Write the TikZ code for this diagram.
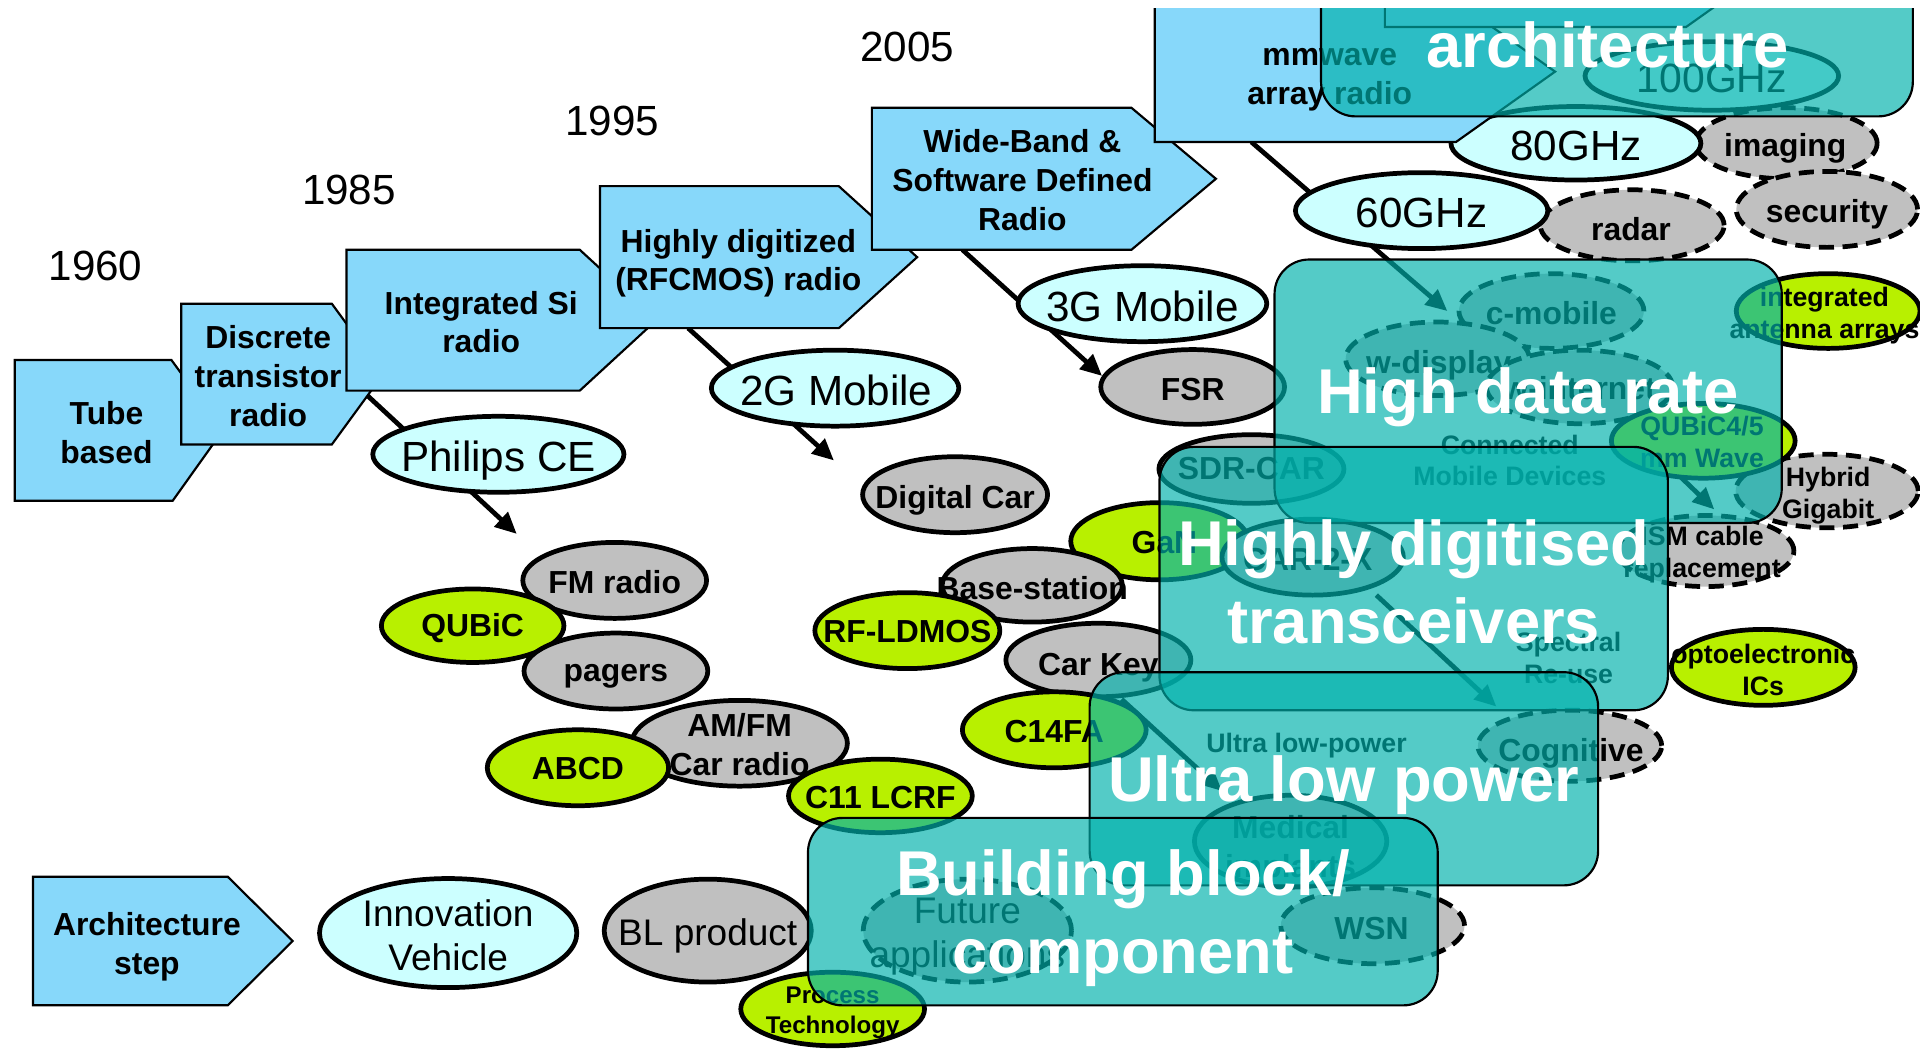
\documentclass[tikz,border=0pt]{standalone}
\usepackage{fontspec}
\setmainfont{Liberation Sans}
\usetikzlibrary{shapes.geometric,arrows.meta}
\definecolor{lblue}{RGB}{135,216,250}
\definecolor{lcyan}{RGB}{204,255,255}
\definecolor{lgrey}{RGB}{192,192,192}
\definecolor{llime}{RGB}{184,240,0}
\definecolor{ovc}{RGB}{0,177,172}
\tikzset{
  stepbox/.style={draw=black,line width=0.5pt,fill=lblue,line join=miter},
  elb/.style={ellipse,draw=black,line width=1.1pt,inner sep=0pt,outer sep=0pt},
  ecy/.style={elb,fill=lcyan},
  egr/.style={elb,fill=lgrey},
  egd/.style={elb,fill=lgrey,dash pattern=on 3.5pt off 2pt},
  elm/.style={elb,fill=llime},
  tb/.style={font=\fontsize{7.4}{9}\selectfont\bfseries,align=center,inner sep=0pt,yshift=-0.1mm},
  ts/.style={font=\fontsize{6.2}{7.4}\selectfont\bfseries,align=center,inner sep=0pt},
  tp/.style={font=\fontsize{5.6}{6.8}\selectfont\bfseries,align=center,inner sep=0pt},
  tr/.style={font=\fontsize{9.8}{11.5}\selectfont,align=center,inner sep=0pt,yshift=-0.1mm},
  tm/.style={font=\fontsize{8.6}{10.2}\selectfont,align=center,inner sep=0pt},
  dn/.style={yshift=-0.3mm},
  ovl/.style={rectangle,draw=black,line width=0.5pt,fill=ovc,fill opacity=0.67,text opacity=1,rounded corners=8pt,inner sep=0pt},
  ovt/.style={text=white,font=\fontsize{14.7}{18.1}\selectfont\bfseries,align=center,inner sep=0pt},
  conn/.style={draw=black,line width=1.1pt,-{Triangle[length=5pt,width=4.5pt]}},
}
\begin{document}
\begin{tikzpicture}[x=0.01cm,y=-0.01cm]
\useasboundingbox (0,0) rectangle (1568,857);
\begin{scope}
\clip (0,7) rectangle (1568,857);

% years
\node[tr] (y1960) at (78,216) {1960};
\node[tr] (y1985) at (285,154) {1985};
\node[tr] (y1995) at (500,98) {1995};
\node[tr] (y2005) at (741,37) {2005};

% connectors (behind shapes)
\coordinate (c1s) at (300,323); \coordinate (c1e) at (422,436);
\coordinate (c2s) at (562,268); \coordinate (c2e) at (681,376);
\coordinate (c3s) at (786,204); \coordinate (c3e) at (900,307);
\coordinate (c4s) at (1022,116); \coordinate (c4e) at (1182,254);
\coordinate (c5s) at (1373,390); \coordinate (c5e) at (1400,416);
\coordinate (c6s) at (1124,486); \coordinate (c6e) at (1222,577);
\coordinate (c7s) at (916,571); \coordinate (c7e) at (998,646);
\draw[conn] (c1s) -- (c1e);
\draw[conn] (c2s) -- (c2e);
\draw[conn] (c3s) -- (c3e);
\draw[conn] (c4s) -- (c4e);
\draw[conn] (c5s) -- (c5e);
\draw[conn] (c6s) -- (c6e);
\draw[conn] (c7s) -- (c7e);

% ellipses under the mmwave step
\node[ecy,minimum width=2.07cm,minimum height=0.56cm] (g100) at (1398,62) {};
\node[tr,font=\fontsize{9.5}{11}\selectfont] (g100T) at (1398,63) {100GHz};
\node[egd,minimum width=1.48cm,minimum height=0.58cm] (imaging) at (1459,117) {};
\node[tb,dn] (imagingT) at (1458,117) {imaging};
\node[egd,minimum width=1.48cm,minimum height=0.62cm] (security) at (1492,171) {};
\node[tb,dn] (securityT) at (1492,171) {security};
\node[ecy,minimum width=2.04cm,minimum height=0.60cm] (g80) at (1287,117) {};
\node[tr] (g80T) at (1287,118) {80GHz};

% architecture steps
\draw[stepbox] (12,294) -- (140,294) -- (182,351.5) -- (141,409) -- (12,409) -- cycle;
\node[tb] (tube) at (87,352) {Tube\\based};
\draw[stepbox] (148,248) -- (271,248) -- (313,305.5) -- (271,363) -- (148,363) -- cycle;
\node[tb] (disc) at (219,306) {Discrete\\transistor\\radio};
\draw[stepbox] (283,204) -- (473.5,204) -- (536,261.5) -- (473.5,319) -- (283,319) -- cycle;
\node[tb] (integ) at (393,262) {Integrated Si\\radio};
\draw[stepbox] (490,152) -- (685,152) -- (749,210) -- (685,268) -- (490,268) -- cycle;
\node[tb,dn] (highly) at (603,211) {Highly digitized\\(RFCMOS) radio};
\draw[stepbox] (712,88) -- (924,88) -- (993,146) -- (924,204) -- (712,204) -- cycle;
\node[tb] (wide) at (835,146) {Wide-Band \&\\Software Defined\\Radio};
\draw[stepbox] (943,1) -- (1189,1) -- (1270,58.5) -- (1189,116) -- (943,116) -- cycle;
\node[tb] (mmw) at (1086,64) {mmwave\\array radio};
\draw[stepbox] (1131,-93) -- (1377,-93) -- (1458,-35.5) -- (1377,22) -- (1131,22) -- cycle;
\draw[stepbox] (27,716) -- (186,716) -- (239,768.5) -- (186,821) -- (27,821) -- cycle;
\node[tb,dn] (archstep) at (120,769) {Architecture\\step};

% cyan ellipses
\node[ecy,minimum width=2.05cm,minimum height=0.62cm] (philips) at (407,371) {};
\node[tr,dn] (philipsT) at (407,372) {Philips CE};
\node[ecy,minimum width=2.02cm,minimum height=0.62cm] (g2) at (682,317) {};
\node[tr] (g2T) at (683,318) {2G Mobile};
\node[ecy,minimum width=2.03cm,minimum height=0.62cm] (g3) at (933,248) {};
\node[tr] (g3T) at (933,249) {3G Mobile};
\node[egd,minimum width=1.50cm,minimum height=0.58cm] (radar) at (1333,184) {};
\node[tb] (radarT) at (1332,186) {radar};
\node[ecy,minimum width=2.06cm,minimum height=0.62cm] (g60) at (1161,172) {};
\node[tr] (g60T) at (1161,173) {60GHz};
\node[ecy,minimum width=2.10cm,minimum height=0.89cm] (innov) at (366,762) {};
\node[tm] (innovT) at (366,764) {Innovation\\Vehicle};

% left cluster
\node[egr,minimum width=1.50cm,minimum height=0.62cm] (fm) at (502,474) {};
\node[tb] (fmT) at (fm) {FM radio};
\node[elm,minimum width=1.49cm,minimum height=0.60cm] (qubic) at (386,511) {};
\node[tb] (qubicT) at (386,512) {QUBiC};
\node[egr,minimum width=1.50cm,minimum height=0.62cm] (pagers) at (503,548) {};
\node[tb,dn] (pagersT) at (pagers) {pagers};
\node[egr,minimum width=1.76cm,minimum height=0.70cm] (amfm) at (604,607) {};
\node[tb] (amfmT) at (amfm) {AM/FM\\Car radio};
\node[elm,minimum width=1.48cm,minimum height=0.62cm] (abcd) at (472,627) {};
\node[tb] (abcdT) at (abcd) {ABCD};
\node[elm,minimum width=1.50cm,minimum height=0.60cm] (c11) at (719,650) {};
\node[tb] (c11T) at (c11) {C11 LCRF};

% middle cluster
\node[egr,minimum width=1.51cm,minimum height=0.62cm] (dcar) at (780,404) {};
\node[tb,dn] (dcarT) at (780,405) {Digital Car};
\node[egr,minimum width=1.50cm,minimum height=0.61cm] (fsr) at (974,316) {};
\node[tb] (fsrT) at (974,317) {FSR};
\node[elm,minimum width=1.45cm,minimum height=0.63cm] (gan) at (947,442) {};
\node[tb] (ganT) at (951,442) {GaN};
\node[egr,minimum width=1.47cm,minimum height=0.60cm] (base) at (843,478) {};
\node[tb] (baseT) at (843,479) {Base-station};
\node[elm,minimum width=1.51cm,minimum height=0.62cm] (rfl) at (741,515) {};
\node[tb] (rflT) at (rfl) {RF-LDMOS};
\node[egr,minimum width=1.51cm,minimum height=0.60cm] (carkey) at (897,539) {};
\node[tb,dn] (carkeyT) at (897,541) {Car Key};
\node[elm,minimum width=1.50cm,minimum height=0.62cm] (c14) at (861,596) {};
\node[tb] (c14T) at (c14) {C14FA};
\node[egr,minimum width=1.51cm,minimum height=0.56cm] (sdr) at (1022,383) {};
\node[tb] (sdrT) at (1022,382) {SDR-CAR};
\node[egr,minimum width=1.48cm,minimum height=0.62cm] (car2x) at (1072,455) {};
\node[tb] (car2xT) at (1068,456) {CAR-2-X};
\node[egr,minimum width=1.57cm,minimum height=0.75cm] (medical) at (1054,687) {};
\node[tb,dn] (medicalT) at (1054,690) {Medical\\implants};
\node[egd,minimum width=1.50cm,minimum height=0.58cm] (cogn) at (1282,609) {};
\node[tb,dn] (cognT) at (1283,611) {Cognitive};
\node[egd,minimum width=1.50cm,minimum height=0.62cm] (wsn) at (1121,756) {};
\node[tb] (wsnT) at (1120,757) {WSN};
\node[egd,minimum width=1.70cm,minimum height=0.84cm] (future) at (790,760) {};
\node[tm,dn] (futureT) at (790,762) {Future\\applications};
\node[egr,minimum width=1.69cm,minimum height=0.84cm] (bl) at (578,760) {};
\node[tm,dn] (blT) at (578,761) {BL product};
\node[elm,minimum width=1.50cm,minimum height=0.60cm] (process) at (680,824) {};
\node[tp,dn] (processT) at (process) {Process\\Technology};

% right cluster
\node[egd,minimum width=1.51cm,minimum height=0.61cm] (cmob) at (1267,254) {};
\node[tb] (cmobT) at (1267,255) {c-mobile};
\node[egd,minimum width=1.50cm,minimum height=0.60cm] (wdisp) at (1174,293) {};
\node[tb,dn] (wdispT) at (1175,294) {w-display};
\node[egd,minimum width=1.52cm,minimum height=0.60cm] (wint) at (1290,316) {};
\node[tb] (wintT) at (wint) {w-internet};
\node[egd,minimum width=1.49cm,minimum height=0.60cm] (hybrid) at (1492,401) {};
\node[ts,dn] (hybridT) at (1493,402) {Hybrid\\Gigabit};
\node[elm,minimum width=1.50cm,minimum height=0.61cm] (q45) at (1391,360) {};
\node[ts] (q45T) at (1390,361) {QUBiC4/5\\mm Wave};
\node[elm,minimum width=1.50cm,minimum height=0.61cm] (intant) at (1493,254) {};
\node[ts,dn] (intantT) at (1490,255) {integrated\\antenna arrays};
\node[egd,minimum width=1.44cm,minimum height=0.58cm] (ism) at (1393,450) {};
\node[ts,dn] (ismT) at (1390,450) {ISM cable\\replacement};
\node[elm,minimum width=1.50cm,minimum height=0.62cm] (opto) at (1440,545) {};
\node[ts] (optoT) at (1440,547) {optoelectronic\\ICs};

% plain texts
\node[ts] (connT) at (1233,376) {Connected\\Mobile Devices};
\node[ts] (specT) at (1281,537) {Spectral\\Re-use};
\node[ts] (ulpT) at (1067,609) {Ultra low-power};

% overlays
\node[ovl,minimum width=4.83cm,minimum height=1.35cm] (arch) at (1320.5,27.5) {};
\node[ovt] (archT) at (1313,37) {architecture};
\node[ovl,minimum width=4.14cm,minimum height=2.15cm] (hdr) at (1248,319.5) {};
\node[ovt] (hdrT) at (1248,324.5) {High data rate};
\node[ovl,minimum width=4.15cm,minimum height=2.15cm] (hdt) at (1154.5,472.5) {};
\node[ovt] (hdtT) at (1154.5,475) {Highly digitised\\transceivers};
\node[ovl,minimum width=4.15cm,minimum height=1.74cm] (ulp) at (1097.5,636) {};
\node[ovt] (ulpTT) at (1097.5,641) {Ultra low power};
\node[ovl,minimum width=5.14cm,minimum height=1.53cm] (bb) at (917,744.5) {};
\node[ovt] (bbT) at (917,749.5) {Building block/\\component};
\end{scope}
\end{tikzpicture}
\end{document}
